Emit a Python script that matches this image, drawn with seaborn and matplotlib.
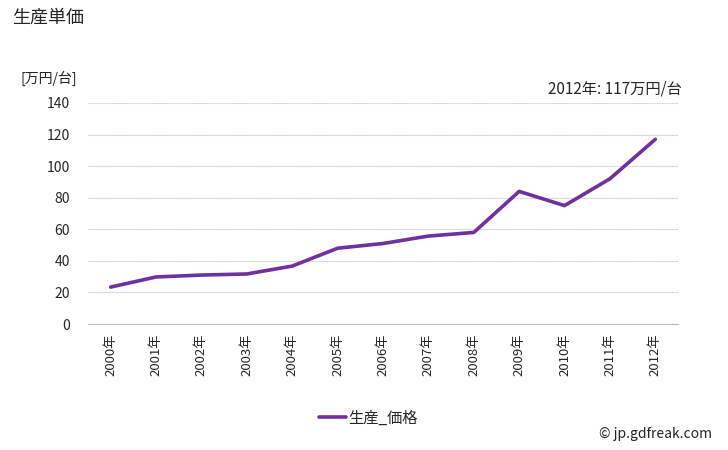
import matplotlib
matplotlib.use("Agg")
import matplotlib.pyplot as plt
import seaborn as sns
import pandas as pd
import numpy as np

years = ["2000年", "2001年", "2002年", "2003年", "2004年", "2005年", "2006年",
         "2007年", "2008年", "2009年", "2010年", "2011年", "2012年"]
values = [23.4, 29.8, 31.0, 31.7, 36.7, 48.0, 51.0, 55.7, 58.0, 84.0, 75.0, 92.0, 117.0]
series_name = "生産_価格"

sns.set_style("white")
plt.rcParams['font.family'] = ['Noto Sans CJK JP', 'DejaVu Sans']

df = pd.DataFrame({"year": years, "value": values, "series": series_name})

fig = plt.figure(figsize=(7.28, 4.5), dpi=100)
ax = fig.add_axes([88/728, 1-324/450, (678-88)/728, (324-103)/450])

sns.lineplot(data=df, x="year", y="value", hue="series", palette=["#7030A0"],
             linewidth=2.6, ax=ax, legend=False, sort=False)

ax.set_xlim(-0.5, len(years)-0.5)
ax.set_ylim(0, 140)
ax.set_yticks(range(0, 141, 20))
ax.tick_params(axis='y', length=0, labelsize=10, pad=13)
ax.yaxis.grid(True, color="#cccccc", linewidth=0.8, linestyle=(0, (1, 0.5)))
ax.xaxis.grid(False)

ax.set_xticks(range(len(years)))
ax.set_xticklabels(years, rotation=90, fontsize=9.5)
ax.set_xticks(np.arange(-0.5, len(years), 1.0), minor=True)
ax.tick_params(axis='x', which='major', length=0, pad=7)
ax.tick_params(axis='x', which='minor', length=5, color="#bbbbbb", width=0.8)

for s in ["top", "right", "left"]:
    ax.spines[s].set_visible(False)
ax.spines["bottom"].set_color("#bbbbbb")
ax.spines["bottom"].set_linewidth(0.8)
ax.set_xlabel("")
ax.set_ylabel("")

fig.text(12/728, 1-18/450, "生産単価", fontsize=13, va="center", ha="left")
fig.text(20/728, 1-78/450, "[万円/台]", fontsize=10, va="center", ha="left")
fig.text(682/728, 1-89/450, "2012年: 117万円/台", fontsize=11, va="center", ha="right")

from matplotlib.lines import Line2D
h = [Line2D([0], [0], color="#7030A0", linewidth=2.6)]
fig.legend(h, [series_name], loc="center", bbox_to_anchor=(368/728, 1-418/450),
           frameon=False, fontsize=11, handlelength=1.8, handletextpad=0.1)

fig.text(712/728, 1-434/450, "© jp.gdfreak.com", fontsize=10, va="center", ha="right")

fig.savefig("out.png", dpi=100)
